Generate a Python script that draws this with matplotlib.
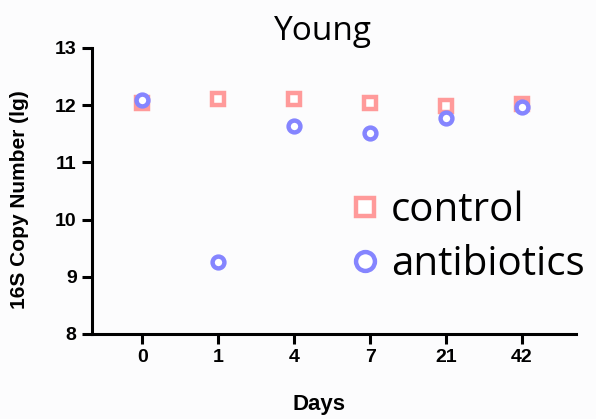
import matplotlib
matplotlib.use("Agg")
import matplotlib.pyplot as plt
import numpy as np

days = ["0", "1", "4", "7", "21", "42"]
control = [12.04, 12.11, 12.11, 12.04, 11.98, 12.01]
antibiotics = [12.08, 9.26, 11.63, 11.52, 11.78, 11.97]
y_ticks = [8, 9, 10, 11, 12, 13]

fig = plt.figure(figsize=(5.96, 4.19), dpi=100, facecolor="#fcfcfd")
ax = fig.add_axes([0.1544, 0.2029, 0.812, 0.683])
ax.set_facecolor("none")

x = np.arange(len(days))
ax.plot(x, control, linestyle="none", marker="s", markersize=8.5,
        mfc="white", mec="#ff9a9a", mew=3.2, label="control", zorder=3)
ax.plot(x, antibiotics, linestyle="none", marker="o", markersize=8.5,
        mfc="white", mec="#8585ff", mew=3.2, label="antibiotics", zorder=4)

ax.set_xlim(-0.66, 5.71)
ax.set_ylim(8, 13)
ax.set_xticks(x)
ax.set_xticklabels(days)
ax.set_yticks(y_ticks)

for s in ["top", "right"]:
    ax.spines[s].set_visible(False)
for s in ["left", "bottom"]:
    ax.spines[s].set_linewidth(2.2)
ax.tick_params(axis="both", width=2.2, length=7, labelsize=14, pad=4)
for lab in ax.get_xticklabels() + ax.get_yticklabels():
    lab.set_fontfamily("Liberation Sans")
    lab.set_fontweight("bold")

ax.set_ylabel("16S Copy Number (lg)", fontsize=15, fontweight="bold",
              fontfamily="Liberation Sans")
ax.yaxis.set_label_coords(-0.13, 0.47)
ax.set_xlabel("Days", fontsize=16, fontweight="bold",
              fontfamily="Liberation Sans")
ax.xaxis.set_label_coords(0.47, -0.21)
ax.set_title("Young", fontsize=24, fontfamily="Open Sans", x=0.477, pad=4)

leg = ax.legend(loc="center left", bbox_to_anchor=(0.51, 0.335), frameon=False,
                prop={"family": "Open Sans", "size": 29},
                handlelength=0.5, handletextpad=0.4, labelspacing=0.34,
                markerscale=1.6, borderaxespad=0)

fig.savefig("out.png", dpi=100, facecolor=fig.get_facecolor())
